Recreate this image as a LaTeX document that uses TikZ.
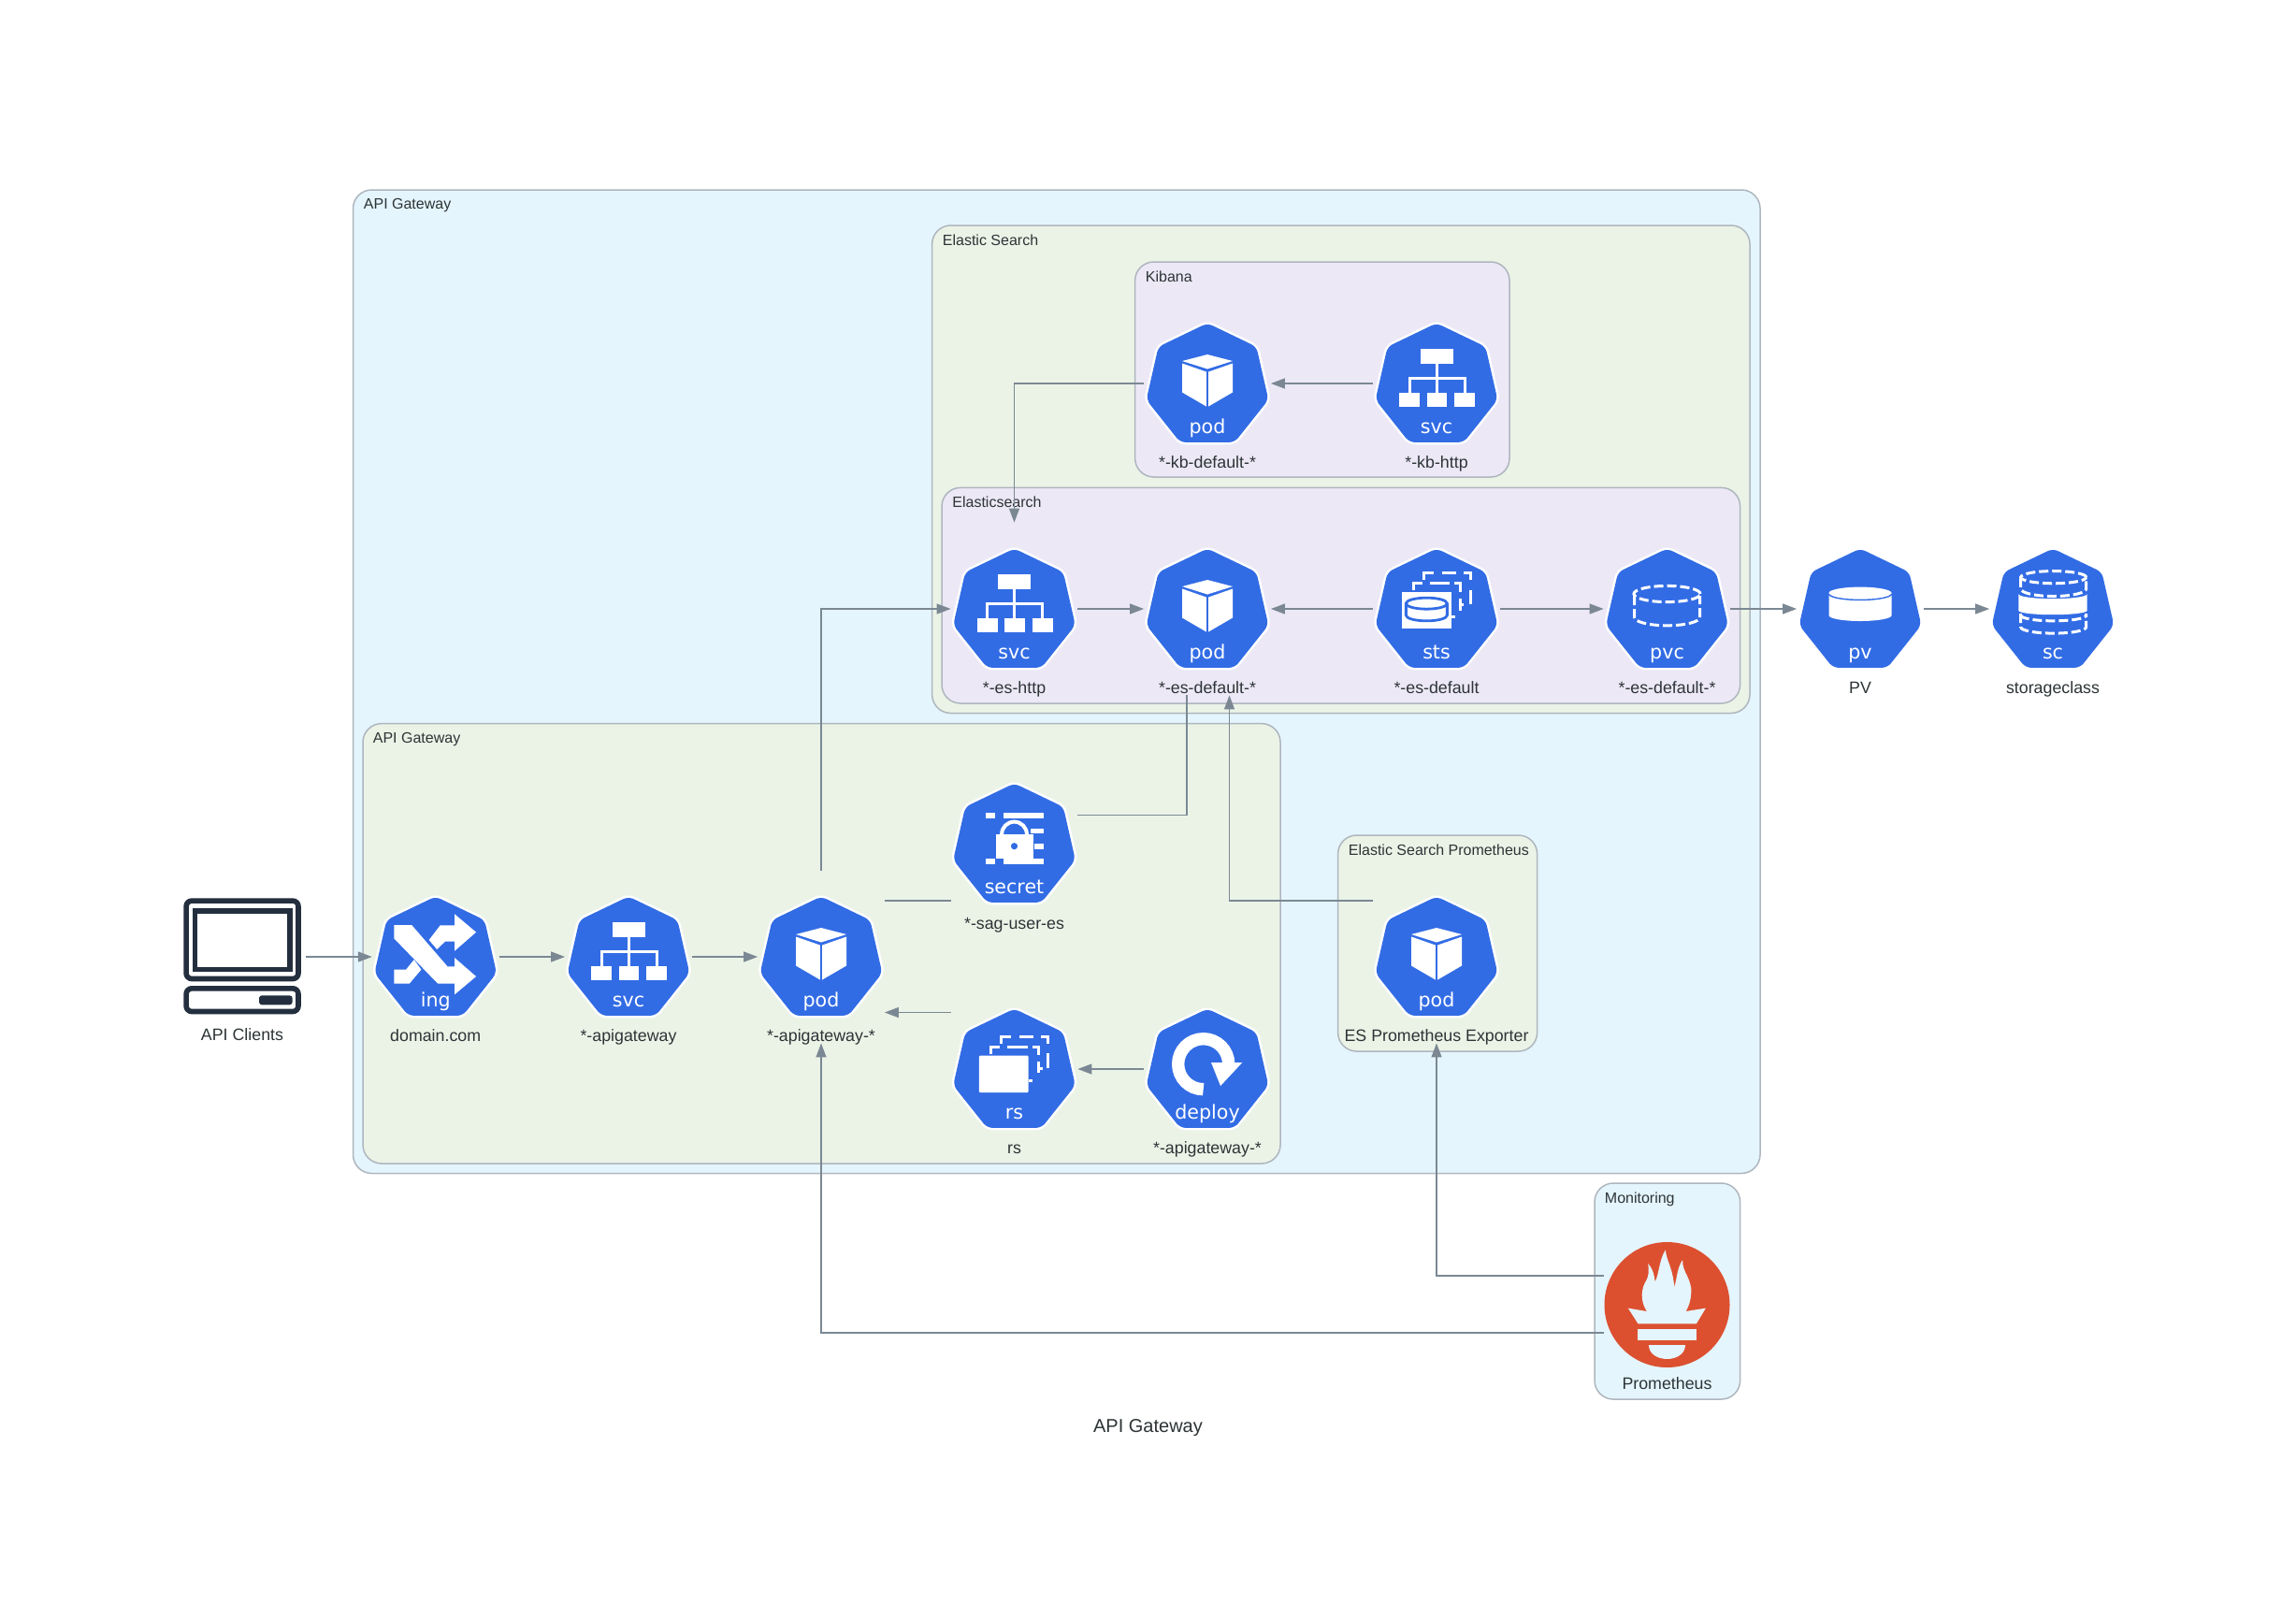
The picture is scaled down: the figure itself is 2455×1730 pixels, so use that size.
\documentclass[tikz,border=0pt]{standalone}
\usepackage{fontspec}
\setmainfont{Liberation Sans}
\newfontfamily\djv{DejaVu Sans}
\usetikzlibrary{arrows.meta,calc}
\definecolor{kubeblue}{HTML}{326CE5}
\definecolor{edgegray}{HTML}{7B8894}
\definecolor{penc}{HTML}{AEB6BE}
\definecolor{bgblue}{HTML}{E5F5FD}
\definecolor{bggreen}{HTML}{EBF3E7}
\definecolor{bgpurple}{HTML}{ECE8F6}
\definecolor{txt}{HTML}{2D3436}
\definecolor{promred}{HTML}{DC5030}
\definecolor{navy}{HTML}{232F3E}
\tikzset{
  iconbox/.style={rectangle,inner sep=0pt,minimum width=67.5pt,minimum height=92pt},
  lab/.style={anchor=base,inner sep=0pt,text=txt,font=\fontsize{8.9}{10}\selectfont},
  kubetxt/.style={anchor=base,inner sep=0pt,text=white,font=\djv\fontsize{10.3}{12}\selectfont},
  clab/.style={anchor=base west,inner sep=0pt,text=txt,font=\fontsize{8}{10}\selectfont},
  clusterbox/.style={draw=penc,line width=0.75pt,rounded corners=10pt},
  edge/.style={draw=edgegray,line width=0.65pt},
  arrowedge/.style={edge,-{Triangle[length=7.5pt,width=5.5pt]}},
  dashw/.style={draw=white,line width=1.5pt,dash pattern=on 5pt off 2pt},
  wl/.style={draw=white,line width=1.5pt,line cap=butt},
  zoomed/.style 2 args={x=0.166667pt,y=-0.166667pt,shift={(#1,#2)}}
}
% ---------- icon glyphs ----------
\newcommand\iconpod{%
  \fill[white] (0,-31) -- (27,-24) -- (0,-15.5) -- (-27,-24) -- cycle;
  \fill[white] (-27,-21.5) -- (-1.2,-12.5) -- (-1.2,24.5) -- (-27,9.5) -- cycle;
  \fill[white] (27,-21.5) -- (1.2,-12.5) -- (1.2,24.5) -- (27,9.5) -- cycle;
}
\newcommand\iconsvc{%
  \fill[white] (-17.5,-37) rectangle (17.5,-21);
  \fill[white] (-39.6,9.6) rectangle (-17.8,25);
  \fill[white] (-10.5,9.6) rectangle (11,25);
  \fill[white] (19,9.6) rectangle (41,25);
  \draw[wl] (0,-21) -- (0,9.6);
  \draw[wl] (-28.7,9.6) -- (-28.7,-5.7) -- (30,-5.7) -- (30,9.6);
}
\newcommand\iconing{%
  \fill[white] (-44.4,-34) -- (-25.5,-34) -- (12.8,10.3) -- (20.4,10.3) -- (20.4,1) -- (43.4,21) -- (20.4,40.3) -- (20.4,28.7) -- (2.5,28.7) -- (-44.4,-19.7) -- cycle;
  \fill[white] (20.4,-45.7) -- (43.4,-26.3) -- (20.4,-6.3) -- (20.4,-16.3) -- (10.2,-16.3) -- (1.5,-8) -- (-7,-18) -- (5,-33.7) -- (20.4,-33.7) -- cycle;
  \fill[white] (-44.4,13.7) -- (-31.6,13.7) -- (-23,3) -- (-15.3,13.7) -- (-28,28.7) -- (-44.4,28.7) -- cycle;
}
\newcommand\iconsecret{%
  \fill[white] (-31,-32.7) rectangle (-20.3,-27);
  \fill[white] (-12,-32.7) rectangle (31,-27);
  \fill[white] (17.7,-16.3) rectangle (31,-11);
  \fill[white] (21.3,0) rectangle (31,5.7);
  \fill[white] (-31,16.3) rectangle (-20.3,22);
  \fill[white] (-12,16.3) rectangle (31,22);
  \draw[white,line width=2pt] (-13.4,-10) arc[start angle=180,end angle=0,radius=6.7pt];
  \fill[white] (-19.7,-10.3) rectangle (20.7,15.7);
  \fill[kubeblue] (0,2.7) circle[radius=1.8pt];
}
\newcommand\iconrs{%
  \begin{scope}[zoomed={-254}{-249}]
    \fill[white,rounded corners=0.5pt] (141,206) rectangle (299,324);
    \draw[wl] (178,200) -- (178,178) -- (208,178);
    \draw[wl] (232,178) -- (298,178);
    \draw[wl] (312,178) -- (333,178) -- (333,205);
    \draw[wl] (333,225) -- (333,262);
    \draw[wl] (299,285) -- (313,285);
    \draw[wl] (333,247) -- (345,247);
    \draw[wl] (212,168) -- (212,146) -- (244,146);
    \draw[wl] (270,146) -- (316,146);
    \draw[wl] (340,146) -- (363,146) -- (363,167);
    \draw[wl] (363,198) -- (363,247);
  \end{scope}
}
\newcommand\icondeploy{%
  \begin{scope}[zoomed={-873}{-249}]
    \draw[white,line width=6.67pt] (860,314) arc[start angle=270,end angle=0,radius=13.5pt];
    \fill[white] (885,228) -- (985,228) -- (915,303) -- cycle;
  \end{scope}
}
\newcommand\iconsts{%
  \begin{scope}[zoomed={-228}{-229.5}]
    \fill[white] (116,176) rectangle (275,292);
    \draw[kubeblue,line width=1.4pt,fill=white] (130,212) -- (130,250) arc[start angle=180,end angle=360,x radius=11pt,y radius=3pt] -- (262,212) arc[start angle=0,end angle=180,x radius=11pt,y radius=3pt] -- cycle;
    \draw[kubeblue,line width=1.4pt] (130,212) arc[start angle=180,end angle=360,x radius=11pt,y radius=3pt];
    \draw[wl] (154,170) -- (154,148) -- (183,148);
    \draw[wl] (206,148) -- (270,148);
    \draw[wl] (285,148) -- (303,148) -- (303,176);
    \draw[wl] (303,195) -- (303,235);
    \draw[wl] (275,255) -- (288,255);
    \draw[wl] (303,215) -- (316,215);
    \draw[wl] (187,135) -- (187,115) -- (218,115);
    \draw[wl] (245,115) -- (292,115);
    \draw[wl] (315,115) -- (338,115) -- (338,135);
    \draw[wl] (336,168) -- (336,213);
  \end{scope}
}
\newcommand\iconpvc{%
  \draw[dashw] (0,-16) ellipse[x radius=17.8pt,y radius=4.3pt];
  \draw[dashw] (-35,-14) -- (-35,9) arc[start angle=180,end angle=360,x radius=17.5pt,y radius=4.4pt] -- (35,-14);
}
\newcommand\iconpv{%
  \fill[white] (-33.5,-17) -- (-33.5,7) arc[start angle=180,end angle=360,x radius=16.75pt,y radius=3pt] -- (33.5,-17) arc[start angle=0,end angle=180,x radius=16.75pt,y radius=3.2pt] -- cycle;
  \draw[kubeblue,line width=0.7pt] (-33.5,-16) arc[start angle=180,end angle=360,x radius=16.75pt,y radius=3.2pt];
}
\newcommand\iconsc{%
  \begin{scope}[zoomed={-225}{-229.5}]
    \draw[dashw] (227,128) ellipse[x radius=17.5pt,y radius=3.3pt];
    \draw[dashw] (122,130) -- (122,165) arc[start angle=180,end angle=360,x radius=17.5pt,y radius=4pt] -- (332,130);
    \fill[white] (115,182) arc[start angle=180,end angle=360,x radius=18.33pt,y radius=2.5pt] -- (335,235) arc[start angle=0,end angle=-180,x radius=18.33pt,y radius=2.2pt] -- cycle;
    \draw[dashw] (122,245) -- (122,288) arc[start angle=180,end angle=360,x radius=17.5pt,y radius=3.3pt] -- (332,245);
    \draw[dashw] (122,250) arc[start angle=180,end angle=360,x radius=17.5pt,y radius=3pt];
  \end{scope}
}
% #1 name, #2 x, #3 y, #4 kind text, #5 glyph, #6 label, #7 label offset
\newcommand\heptapath{(0,-64.5) -- (52.4,-39.3) -- (65.3,17.4) -- (29.1,62.9) -- (-29.1,62.9) -- (-65.3,17.4) -- (-52.4,-39.3) -- cycle}
\newcommand\kube[7]{%
  \node[iconbox] (#1) at (#2,#3) {};
  \begin{scope}[shift={(#1.center)}]
    \path[draw=white,line width=2.5pt,line join=round,rounded corners=3pt] \heptapath;
    \fill[kubeblue,rounded corners=3pt] \heptapath;
    #5
    \node[kubetxt] (#1-kind) at (0,53) {#4};
  \end{scope}
  \node[lab] (#1-label) at ($(#1.center)+(0,#7)$) {#6};
}
\begin{document}
\begin{tikzpicture}[x=0.5pt,y=-0.5pt]
\useasboundingbox (0,0) rectangle (2455,1730);
\fill[white] (0,0) rectangle (2455,1730);
% ---------- clusters ----------
\draw[clusterbox,fill=bgblue] (377.5,203) rectangle (1882,1254.5);
\node[clab] (c-outer) at (388.5,223.5) {API Gateway};
\draw[clusterbox,fill=bggreen] (996.6,241) rectangle (1871,762.5);
\node[clab] (c-es) at (1007.5,262) {Elastic Search};
\draw[clusterbox,fill=bgpurple] (1213.6,280) rectangle (1614,510);
\node[clab] (c-kb) at (1224.5,301) {Kibana};
\draw[clusterbox,fill=bgpurple] (1007,521.4) rectangle (1860.6,752);
\node[clab] (c-esi) at (1018,542.5) {Elasticsearch};
\draw[clusterbox,fill=bggreen] (388,773.6) rectangle (1369,1244);
\node[clab] (c-api) at (398.5,794.5) {API Gateway};
\draw[clusterbox,fill=bggreen] (1430.6,893) rectangle (1643.6,1124);
\node[clab] (c-esp) at (1441.5,914) {Elastic Search Prometheus};
\draw[clusterbox,fill=bgblue] (1705,1265) rectangle (1860.6,1496);
\node[clab] (c-mon) at (1715.5,1286) {Monitoring};
% ---------- nodes ----------
\node[iconbox] (clients) at (259,1023) {};
\begin{scope}[shift={(clients.center)}]
  \draw[navy,line width=2.8pt,rounded corners=3pt,fill=white] (-59.9,-59.9) rectangle (60,23.5);
  \draw[navy,line width=2.8pt,fill=white] (-50.5,-49.3) rectangle (50.7,13.3);
  \draw[navy,line width=2.8pt,rounded corners=3pt,fill=white] (-59.9,33.8) rectangle (60,58.5);
  \fill[navy,rounded corners=1.5pt] (18,41.3) rectangle (53.7,51.3);
\end{scope}
\node[lab] (clients-label) at ($(clients.center)+(0,89)$) {API Clients};
\kube{ing}{465.7}{1023}{ing}{\iconing}{domain.com}{90}
\kube{apisvc}{672}{1023}{svc}{\iconsvc}{*-apigateway}{90}
\kube{apipod}{878}{1023}{pod}{\iconpod}{*-apigateway-*}{90}
\kube{secret}{1084.5}{902}{secret}{\iconsecret}{*-sag-user-es}{91}
\kube{rs}{1084.5}{1143}{rs}{\iconrs}{rs}{90}
\kube{deploy}{1291}{1143}{deploy}{\icondeploy}{*-apigateway-*}{90}
\kube{kbpod}{1291}{410}{pod}{\iconpod}{*-kb-default-*}{90}
\kube{kbsvc}{1536}{410}{svc}{\iconsvc}{*-kb-http}{90}
\kube{essvc}{1084.5}{651}{svc}{\iconsvc}{*-es-http}{90}
\kube{espod}{1291}{651}{pod}{\iconpod}{*-es-default-*}{90}
\kube{sts}{1536}{651}{sts}{\iconsts}{*-es-default}{90}
\kube{pvc}{1782.5}{651}{pvc}{\iconpvc}{*-es-default-*}{90}
\kube{pv}{1989}{651}{pv}{\iconpv}{PV}{90}
\kube{sc}{2195}{651}{sc}{\iconsc}{storageclass}{90}
\kube{exporter}{1536}{1023}{pod}{\iconpod}{ES Prometheus Exporter}{90}
\node[iconbox] (prom) at (1782.5,1395) {};
\begin{scope}[shift={(prom.center)}]
  \fill[promred] (0,0) circle[radius=33.5pt];
  \begin{scope}[zoomed={-248}{-254}]
    \fill[bgblue] (123,265) -- (183,275) .. controls (160,240) and (165,200) .. (182,175) .. controls (190,160) and (190,140) .. (187,122) .. controls (200,135) and (207,155) .. (209,180) .. controls (222,160) and (222,110) .. (243,78) .. controls (245,110) and (268,140) .. (271,198) .. controls (280,170) and (280,135) .. (298,110) .. controls (295,150) and (330,170) .. (325,220) .. controls (323,245) and (315,265) .. (308,275) -- (372,265) -- (342,315) -- (155,315) -- cycle;
    \fill[bgblue] (153,332) rectangle (342,367);
    \fill[bgblue] (190,382) -- (305,382) .. controls (305,443) and (190,443) .. (190,382) -- cycle;
  \end{scope}
\end{scope}
\node[lab] (prom-label) at ($(prom.center)+(0,90)$) {Prometheus};
\node[anchor=base,inner sep=0pt,text=txt,font=\fontsize{10}{12}\selectfont] (title) at (1227.5,1531) {API Gateway};
% ---------- connectors ----------
\draw[arrowedge] (clients.east) -- (ing.west);
\draw[arrowedge] (ing.east) -- (apisvc.west);
\draw[arrowedge] (apisvc.east) -- (apipod.west);
\draw[edge] ($(apipod.east)+(0,-60)$) -- ($(secret.west)+(0,61)$);
\draw[edge] ($(secret.east)+(0,-30.5)$) -| ($(espod.south)+(-22,0)$);
\draw[arrowedge] ($(rs.west)+(0,-60.5)$) -- ($(apipod.east)+(0,59.5)$);
\draw[arrowedge] (deploy.west) -- (rs.east);
\draw[arrowedge] (apipod.north) |- (essvc.west);
\draw[arrowedge] (essvc.east) -- (espod.west);
\draw[arrowedge] (sts.west) -- (espod.east);
\draw[arrowedge] (sts.east) -- (pvc.west);
\draw[arrowedge] (pvc.east) -- (pv.west);
\draw[arrowedge] (pv.east) -- (sc.west);
\draw[arrowedge] (kbsvc.west) -- (kbpod.east);
\draw[arrowedge] (kbpod.west) -| (essvc.north);
\draw[arrowedge] ($(exporter.west)+(0,-60)$) -| ($(espod.south)+(23.5,0)$);
\draw[arrowedge] ($(prom.west)+(0,-31)$) -| (exporter.south);
\draw[arrowedge] ($(prom.west)+(0,30)$) -| (apipod.south);
\end{tikzpicture}
\end{document}
